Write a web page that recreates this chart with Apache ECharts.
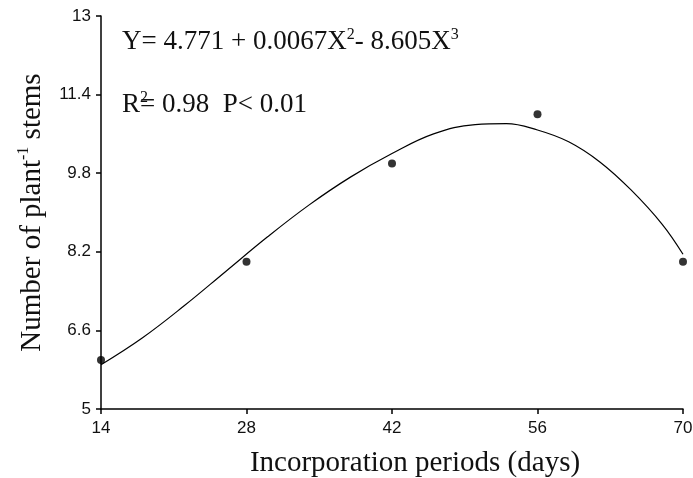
<!DOCTYPE html>
<html>
<head>
<meta charset="utf-8">
<script src="https://cdn.jsdelivr.net/npm/echarts@6/dist/echarts.min.js"></script>
<style>
  html, body { margin: 0; padding: 0; background: #fff; }
  #chart { width: 693px; height: 478px; }
</style>
</head>
<body>
<div id="chart"></div>
<script>
// observed means
const days = [14, 28, 42, 56, 70];
const stems = [6.0, 8.0, 10.0, 11.0, 8.0];

// fitted curve
const fitX = [14, 18, 22, 26, 30, 34, 38, 42, 46, 50, 53, 56, 59, 62, 65, 68, 70];
const fitY = [5.9, 6.45, 7.1, 7.8, 8.5, 9.15, 9.72, 10.2, 10.6, 10.79, 10.81, 10.68, 10.44, 10.03, 9.46, 8.76, 8.15];

const xTicks = [14, 28, 42, 56, 70];
const yTicks = [5, 6.6, 8.2, 9.8, 11.4, 13];

const serif = '"Liberation Serif", "DejaVu Serif", serif';
const sans = '"Liberation Sans", Arial, sans-serif';

const chart = echarts.init(document.getElementById('chart'));
chart.setOption({
    animation: false,
    grid: { left: 101, right: 10, top: 16, bottom: 69, outerBoundsMode: 'none' },
    xAxis: {
        type: 'value', min: 14, max: 70, interval: 14,
        name: 'Incorporation periods (days)', nameLocation: 'middle', nameGap: 40,
        nameTextStyle: { fontFamily: serif, fontSize: 29, color: '#111', padding: [0, 0, 0, 46] },
        axisLine: { lineStyle: { color: '#000', width: 1.5 } },
        axisTick: { length: 5, lineStyle: { color: '#000', width: 1.5 }, customValues: xTicks },
        axisLabel: { margin: 11, fontFamily: sans, fontSize: 17, color: '#111', customValues: xTicks },
        splitLine: { show: false }
    },
    yAxis: {
        type: 'value', min: 5, max: 13,
        name: 'Number of plant{sup|-1} stems', nameLocation: 'middle', nameGap: 53, nameRotate: 90,
        nameTextStyle: {
            fontFamily: serif, fontSize: 29, color: '#111',
            rich: { sup: { fontFamily: serif, fontSize: 16, color: '#111', verticalAlign: 'top', padding: [0, 0, 16, 0] } }
        },
        axisLine: { show: true, lineStyle: { color: '#000', width: 1.5 } },
        axisTick: { show: true, length: 5, lineStyle: { color: '#000', width: 1.5 }, customValues: yTicks },
        axisLabel: { margin: 10, fontFamily: sans, fontSize: 17, color: '#111', customValues: yTicks },
        splitLine: { show: false }
    },
    series: [
        {
            type: 'line', smooth: 0.4, symbol: 'none',
            data: fitX.map((x, i) => [x, fitY[i]]),
            lineStyle: { color: '#000', width: 1.2 }
        },
        {
            type: 'scatter', symbolSize: 8,
            data: days.map((d, i) => [d, stems[i]]),
            itemStyle: { color: '#000' }
        }
    ],
    graphic: [
        {
            type: 'text', left: 122, top: 27,
            style: {
                text: 'Y= 4.771 + 0.0067X{sup|2}- 8.605X{sup|3}',
                fontFamily: serif, fontSize: 27, fill: '#111',
                rich: { sup: { fontFamily: serif, fontSize: 16, fill: '#111', verticalAlign: 'top', padding: [0, 0, 14, 0] } }
            }
        },
        {
            type: 'text', left: 122, top: 90,
            style: {
                text: 'R{sup|2}= 0.98  P< 0.01',
                fontFamily: serif, fontSize: 27, fill: '#111',
                rich: { sup: { fontFamily: serif, fontSize: 16, fill: '#111', verticalAlign: 'top', padding: [0, -8, 14, 0] } }
            }
        }
    ]
});
</script>
</body>
</html>
